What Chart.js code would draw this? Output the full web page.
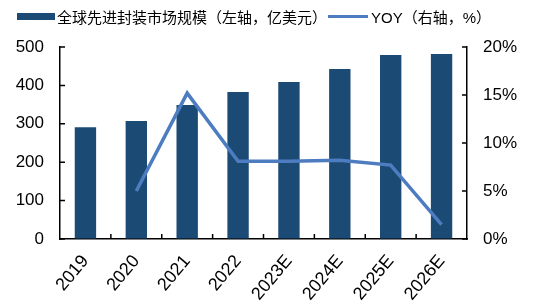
<!DOCTYPE html>
<html lang="zh">
<head>
    <meta charset="UTF-8">
    <title>全球先进封装市场规模</title>
    <script src="https://cdn.jsdelivr.net/npm/chart.js"></script>
    <style>
        body { margin: 0; background: #fff; }
        #wrap { position: relative; width: 555px; height: 301px; }
        #legend {
            position: absolute; top: 6px; left: 17px;
            font-family: "Liberation Sans", "Noto Sans CJK SC", sans-serif;
            font-size: 15px; color: #000; white-space: nowrap;
            display: flex; align-items: center; height: 20px;
        }
        .sw-bar { display: inline-block; width: 38px; height: 7px; background: #1b4a74; margin-right: 2px; }
        .sw-line { display: inline-block; width: 40px; height: 3px; background: #4d7cc0; margin: 0 3px 0 1px; }
    </style>
</head>
<body>
    <div id="wrap">
        <canvas id="chart" width="555" height="301"></canvas>
        <div id="legend">
            <span class="sw-bar"></span><span>全球先进封装市场规模（左轴，亿美元）</span>
            <span class="sw-line"></span><span>YOY（右轴，%）</span>
        </div>
    </div>

    <script>
        var years = ['2019', '2020', '2021', '2022', '2023E', '2024E', '2025E', '2026E'];
        var marketSize = [291, 307, 349, 383, 409, 443, 479, 482];   // 亿美元
        var yoy = [null, 5.0, 15.2, 8.1, 8.1, 8.2, 7.7, 1.5];         // %

        var barColor = '#1b4a74';
        var lineColor = '#4d7cc0';
        var fontFamily = '"Liberation Sans", Arial, sans-serif';

        // inward tick marks on all three axes
        var innerTicks = {
            id: 'innerTicks',
            afterDraw: function(chart) {
                var ctx = chart.ctx;
                var area = chart.chartArea;
                var x = chart.scales.x, y = chart.scales.y, y1 = chart.scales.y1;
                var len = 5;
                ctx.save();
                ctx.strokeStyle = '#000';
                ctx.lineWidth = 1.5;
                ctx.beginPath();
                y.ticks.forEach(function(t) {
                    var py = y.getPixelForValue(t.value);
                    ctx.moveTo(area.left, py);
                    ctx.lineTo(area.left + len, py);
                });
                y1.ticks.forEach(function(t) {
                    var py = y1.getPixelForValue(t.value);
                    ctx.moveTo(area.right, py);
                    ctx.lineTo(area.right - len, py);
                });
                for (var i = 1; i < years.length; i++) {
                    var px = (x.getPixelForValue(i - 1) + x.getPixelForValue(i)) / 2;
                    ctx.moveTo(px, area.bottom);
                    ctx.lineTo(px, area.bottom - len);
                }
                ctx.stroke();
                ctx.restore();
            }
        };

        new Chart(document.getElementById('chart').getContext('2d'), {
            data: {
                labels: years,
                datasets: [{
                    type: 'line',
                    label: 'YOY（右轴，%）',
                    data: yoy,
                    yAxisID: 'y1',
                    borderColor: lineColor,
                    backgroundColor: lineColor,
                    borderWidth: 3.5,
                    pointRadius: 0,
                    tension: 0,
                    order: 0
                }, {
                    type: 'bar',
                    label: '全球先进封装市场规模（左轴，亿美元）',
                    data: marketSize,
                    yAxisID: 'y',
                    backgroundColor: barColor,
                    categoryPercentage: 1,
                    barPercentage: 0.42,
                    order: 1
                }]
            },
            options: {
                responsive: false,
                animation: false,
                layout: { padding: { top: 47, left: 0, right: 0, bottom: 0 } },
                plugins: {
                    legend: { display: false },
                    tooltip: { enabled: false }
                },
                scales: {
                    x: {
                        offset: true,
                        grid: { drawOnChartArea: false, drawTicks: false },
                        border: { color: '#000', width: 1.5 },
                        ticks: {
                            color: '#000',
                            font: { family: fontFamily, size: 18 },
                            minRotation: 50,
                            maxRotation: 50,
                            padding: 12
                        },
                        afterFit: function(s) { s.height = 62; }
                    },
                    y: {
                        position: 'left',
                        min: 0, max: 500,
                        grid: { drawOnChartArea: false, drawTicks: false },
                        border: { color: '#000', width: 1.5 },
                        ticks: {
                            stepSize: 100,
                            color: '#000',
                            font: { family: fontFamily, size: 17 },
                            padding: 16
                        },
                        afterFit: function(s) { s.width = 60; }
                    },
                    y1: {
                        position: 'right',
                        min: 0, max: 20,
                        grid: { drawOnChartArea: false, drawTicks: false },
                        border: { color: '#000', width: 1.5 },
                        ticks: {
                            stepSize: 5,
                            color: '#000',
                            font: { family: fontFamily, size: 17 },
                            padding: 16,
                            callback: function(v) { return v + '%'; }
                        },
                        afterFit: function(s) { s.width = 88; }
                    }
                }
            },
            plugins: [innerTicks]
        });
    </script>
</body>
</html>
